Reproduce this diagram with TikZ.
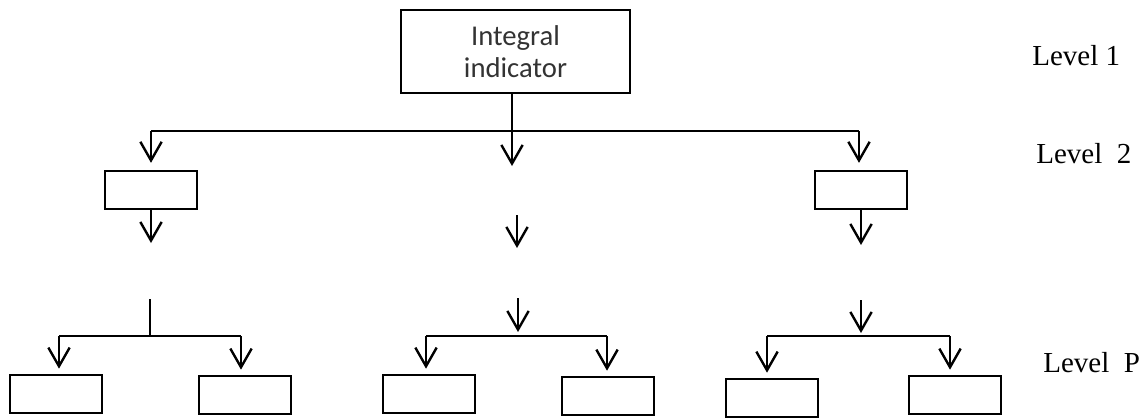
\documentclass[tikz,border=0pt]{standalone}
\usepackage{fontspec}
\setmainfont{Liberation Serif}
\newfontfamily\boxfont{Carlito}
\usetikzlibrary{arrows.meta}

\begin{document}
\begin{tikzpicture}[x=0.75pt,y=-0.75pt,
  box/.style={draw,line width=1.5pt,minimum width=69pt,minimum height=28.5pt,inner sep=0pt},
  topbox/.style={draw,line width=1.2pt,minimum width=171.75pt,minimum height=62.25pt,
    inner sep=0pt,align=center,text=black!80,font=\boxfont\fontsize{21.5}{24}\selectfont},
  link/.style={line width=1.7pt},
  arr/.style={line width=1.8pt,-{Straight Barb[length=14pt,width=16pt]}},
  lvl/.style={anchor=base west,inner sep=0pt,font=\fontsize{21.75}{26}\selectfont}]
  \useasboundingbox (0,0) rectangle (1148,419);
  % Integral indicator and the bus to level 2.
  \node[topbox] (top) at (515.5,51.5) {Integral\\indicator};
  \node[box] (l2a) at (151,189.5) {};
  \node[box] (l2c) at (861,189.5) {};
  \coordinate (busA) at (151,131);
  \coordinate (busB) at (512,131);
  \coordinate (busC) at (859,131);
  \coordinate (tipB) at (512,166);
  \draw[link] (busA) -- (busC);
  \draw[arr] (top.south -| busB) -- (tipB);
  \draw[arr,shorten >=5pt] (busA) -- (busA |- l2a.north);
  \draw[arr,shorten >=5pt] (busC) -- (busC |- l2c.north);
  % Arrows leaving level 2 (the middle one has no box).
  \coordinate (dnA) at (151,243);
  \coordinate (dnC) at (861,245);
  \coordinate (freeB) at (517,215);
  \coordinate (freeBtip) at (517,248);
  \draw[arr] (l2a.south) -- (dnA);
  \draw[arr] (l2c.south) -- (dnC);
  \draw[arr] (freeB) -- (freeBtip);
  % Level P boxes.
  \foreach \name/\x/\y in {p1/56/394,p2/245/395,p3/428.5/394,p4/608/396,p5/772/398,p6/955/395} {
    \node[box] (\name) at (\x,\y) {};
  }
  % Stems into the level P buses.
  \coordinate (stemA) at (150,299);
  \coordinate (joinA) at (150,336);
  \coordinate (stemB) at (518,298);
  \coordinate (joinB) at (518,332);
  \coordinate (stemC) at (861,300);
  \coordinate (joinC) at (861,333);
  \draw[link] (stemA) -- (joinA);
  \draw[arr] (stemB) -- (joinB);
  \draw[arr] (stemC) -- (joinC);
  % Buses and arrows down to the level P boxes.
  \foreach \a/\b/\xa/\xb in {p1/p2/59/241,p3/p4/426/607,p5/p6/767/950} {
    \coordinate (\a-bus) at (\xa,336);
    \coordinate (\b-bus) at (\xb,336);
    \draw[link] (\a-bus) -- (\b-bus);
    \draw[arr,shorten >=4pt] (\a-bus) -- (\a-bus |- \a.north);
    \draw[arr,shorten >=4pt] (\b-bus) -- (\b-bus |- \b.north);
  }
  % Level labels.
  \node[lvl] (lv1) at (1032,65) {Level 1};
  \node[lvl] (lv2) at (1036,163) {Level\ \ 2};
  \node[lvl] (lvp) at (1043,372) {Level\ \ P};
\end{tikzpicture}
\end{document}
